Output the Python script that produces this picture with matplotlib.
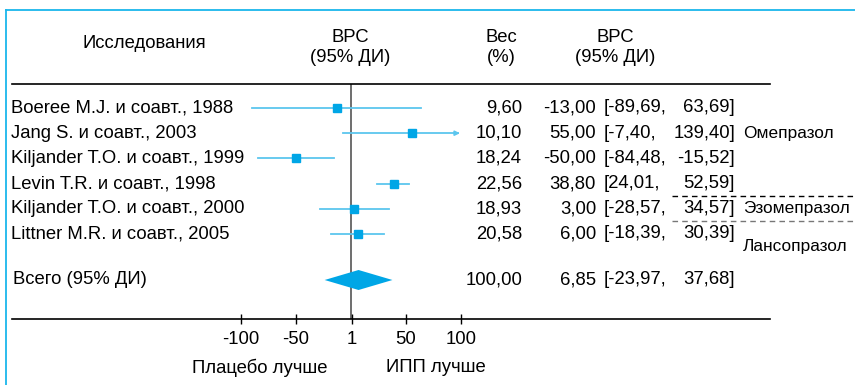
import numpy as np
import matplotlib
matplotlib.use("Agg")
import matplotlib.pyplot as plt
from matplotlib.transforms import Affine2D, blended_transform_factory
from matplotlib.lines import Line2D
from matplotlib.patches import Polygon

plt.rcParams['font.family'] = ['Liberation Sans', 'DejaVu Sans']

# data
studies = ["Boeree M.J. и соавт., 1988", "Jang S. и соавт., 2003",
           "Kiljander T.O. и соавт., 1999", "Levin T.R. и соавт., 1998",
           "Kiljander T.O. и соавт., 2000", "Littner M.R. и соавт., 2005"]
weights = ["9,60", "10,10", "18,24", "22,56", "18,93", "20,58"]
est = [-13.00, 55.00, -50.00, 38.80, 3.00, 6.00]
lo = [-89.69, -7.40, -84.48, 24.01, -28.57, -18.39]
hi = [63.69, 139.40, -15.52, 52.59, 34.57, 30.39]
total_est, total_lo, total_hi = 6.85, -23.97, 37.68
total_weight = "100,00"
xticks = [-100, -50, 1, 50, 100]
groups = ["Омепразол", "Эзомепразол", "Лансопразол"]
group_rows = [1, 4, 5.5]
xmax_shown = 97  # arrow cut-off for CI leaving the scale

def fmt(v):
    return f"{v:.2f}".replace(".", ",")

W, H = 855, 385
fig = plt.figure(figsize=(W / 100, H / 100), dpi=100)

# forest axes: left 12px, right 770px, top 84px, bottom 319px
x0, scale = 351, 1.1
ax = fig.add_axes([12 / W, 1 - 319 / H, (770 - 12) / W, (319 - 84) / H])
ax.set_xlim((12 - x0) / scale, (770 - x0) / scale)
row0, step = 108, 25.2
ax.set_ylim((319 - row0) / step, (84 - row0) / step)
for s in ["left", "right"]:
    ax.spines[s].set_visible(False)
ax.spines["top"].set_linewidth(1.2)
ax.spines["bottom"].set_linewidth(1.2)
ax.set_yticks([])
ax.set_xticks(xticks)
ax.set_xticklabels([str(t) for t in xticks])
fs = 13.3
ax.tick_params(axis="x", direction="inout", length=7, width=1, pad=5, labelsize=fs)
ax.patch.set_alpha(0)

pix = Affine2D().scale(1 / W, -1 / H).translate(0, 1) + fig.transFigure
rowtr = blended_transform_factory(pix, ax.transData)

line_c = "#5cc6ee"
mark_c = "#00a6e6"

ax.axvline(0, color="#555555", lw=1.2, zorder=1)

for i in range(len(studies)):
    if hi[i] > xmax_shown:
        ax.plot([lo[i], xmax_shown], [i, i], color=line_c, lw=1.3, zorder=2)
        ax.annotate("", xy=(xmax_shown + 2, i), xytext=(xmax_shown - 3, i),
                    arrowprops=dict(arrowstyle="-|>", color=line_c, lw=1.2,
                                    mutation_scale=7, shrinkA=0, shrinkB=0))
    else:
        ax.plot([lo[i], hi[i]], [i, i], color=line_c, lw=1.3, zorder=2)
    ax.plot(est[i], i, marker="s", ms=5.3, color=mark_c, zorder=3)

    ax.text(11, i, studies[i], transform=rowtr, ha="left", va="center", fontsize=fs)
    ax.text(522, i, weights[i], transform=rowtr, ha="right", va="center", fontsize=fs)
    ax.text(596, i, fmt(est[i]), transform=rowtr, ha="right", va="center", fontsize=fs)
    ax.text(604, i, "[" + fmt(lo[i]) + ",", transform=rowtr, ha="left", va="center", fontsize=fs)
    ax.text(735, i, fmt(hi[i]) + "]", transform=rowtr, ha="right", va="center", fontsize=fs)

# overall diamond
trow = (280 - row0) / step
hh = 10 / step
ax.add_patch(Polygon([[total_lo, trow], [total_est, trow - hh],
                      [total_hi, trow], [total_est, trow + hh]],
                     closed=True, color=mark_c, lw=0, zorder=3))
ax.text(13, trow, "Всего (95% ДИ)", transform=rowtr, ha="left", va="center", fontsize=fs)
ax.text(522, trow, total_weight, transform=rowtr, ha="right", va="center", fontsize=fs)
ax.text(596, trow, fmt(total_est), transform=rowtr, ha="right", va="center", fontsize=fs)
ax.text(604, trow, "[" + fmt(total_lo) + ",", transform=rowtr, ha="left", va="center", fontsize=fs)
ax.text(735, trow, fmt(total_hi) + "]", transform=rowtr, ha="right", va="center", fontsize=fs)

# drug group labels and separators
for name, r in zip(groups, group_rows):
    ax.text(743, r, name, transform=rowtr, ha="left", va="center", fontsize=12.4, clip_on=False)
for yr, c in [(3.5, "black"), (4.5, "#777777")]:
    fig.add_artist(Line2D([672, 855], [yr, yr], transform=rowtr, color=c,
                          lw=1, ls=(0, (4, 3))))

# header
fig.text(144, 43, "Исследования", transform=pix, ha="center", va="center", fontsize=fs)
for xc in (350, 615):
    fig.text(xc, 37, "ВРС", transform=pix, ha="center", va="center", fontsize=fs)
    fig.text(xc, 57, "(95% ДИ)", transform=pix, ha="center", va="center", fontsize=fs)
fig.text(501, 37, "Вес", transform=pix, ha="center", va="center", fontsize=fs)
fig.text(501, 57, "(%)", transform=pix, ha="center", va="center", fontsize=fs)

# favour labels
fig.text(260, 368, "Плацебо лучше", transform=pix, ha="center", va="center", fontsize=fs)
fig.text(436, 368, "ИПП лучше", transform=pix, ha="center", va="center", fontsize=fs)

# frame
border = "#1ab6ec"
fig.add_artist(Line2D([6, W], [10, 10], transform=pix, color=border, lw=1.3))
fig.add_artist(Line2D([6, 6], [10, H], transform=pix, color=border, lw=1.3))

fig.savefig("out.png", dpi=100)
